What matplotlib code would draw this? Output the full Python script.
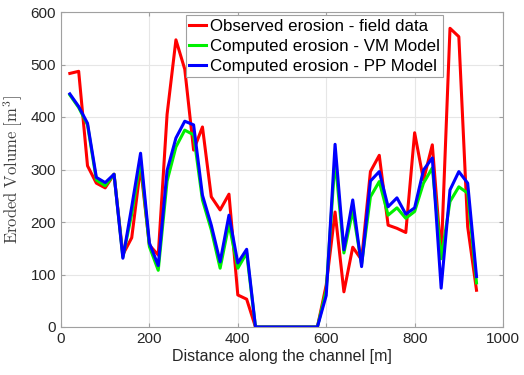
import numpy as np
import matplotlib.pyplot as plt

plt.rcParams['font.family'] = ['Liberation Sans', 'DejaVu Sans']
plt.rcParams['mathtext.fontset'] = 'cm'

# distance along the channel, every 20 m
dist = np.arange(20, 960, 20)

# observed erosion - field data
observed = [483, 487, 307, 274, 265, 291, 138, 170, 305, 156, 137, 405,
            547, 491, 337, 381, 248, 223, 253, 61, 53, 0, 0, 0,
            0, 0, 0, 0, 0, 80, 219, 67, 152, 128, 296, 327,
            194, 188, 180, 370, 280, 347, 134, 569, 553, 191, 70]

# computed erosion - VM model
vm_model = [442, 418, 385, 280, 269, 291, 133, 215, 318, 153, 108, 278,
            343, 375, 366, 242, 185, 112, 196, 112, 141, 0, 0, 0,
            0, 0, 0, 0, 0, 70, 320, 141, 222, 120, 248, 277,
            213, 227, 207, 220, 274, 303, 130, 239, 267, 255, 84]

# computed erosion - PP model
pp_model = [444, 420, 388, 285, 275, 291, 131, 229, 331, 160, 117, 298,
            360, 392, 385, 251, 194, 124, 213, 122, 148, 0, 0, 0,
            0, 0, 0, 0, 0, 60, 348, 147, 242, 115, 278, 296,
            229, 246, 215, 227, 299, 322, 74, 261, 296, 274, 96]

fig = plt.figure(figsize=(5.24, 3.75), dpi=100)
ax = fig.add_axes([0.1164, 0.128, 0.8436, 0.84])

ax.plot(dist, observed, color='#ff0000', lw=2.2, label='Observed erosion - field data')
ax.plot(dist, vm_model, color='#00f000', lw=2.2, label='Computed erosion - VM Model')
ax.plot(dist, pp_model, color='#0000ff', lw=2.2, label='Computed erosion - PP Model')

ax.set_xlim(0, 1000)
ax.set_ylim(0, 600)
ax.set_xticks([0, 200, 400, 600, 800, 1000])
ax.set_yticks([0, 100, 200, 300, 400, 500, 600])
ax.grid(True, color='#e6e6e6', lw=0.8)
ax.set_axisbelow(True)
for s in ax.spines.values():
    s.set_color('#a0a0a0')
    s.set_linewidth(0.8)
ax.tick_params(labelsize=11, colors='#262626', direction='in', length=3,
               color='#a0a0a0', top=True, right=True, labeltop=False, labelright=False)

ax.set_xlabel('Distance along the channel [m]', fontsize=11.5, color='#262626', labelpad=2)
ax.set_ylabel(r'$\mathrm{Eroded\ Volume\ [m^3]}$', fontsize=12, color='#404040', labelpad=4)

leg = ax.legend(loc='upper right', bbox_to_anchor=(0.872, 1.0), fontsize=12.2,
                handlelength=1.0, handletextpad=0.2, borderpad=0.2,
                labelspacing=0.3, borderaxespad=0.2, fancybox=False,
                edgecolor='#a0a0a0', framealpha=1)
leg.get_frame().set_linewidth(0.8)

fig.savefig('out.png', dpi=100)
